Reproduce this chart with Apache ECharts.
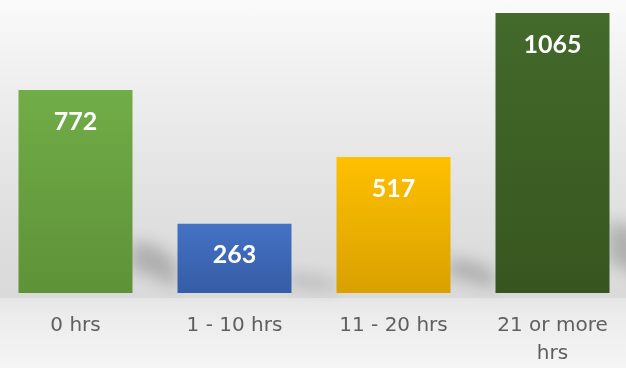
<!DOCTYPE html>
<html>
<head>
<meta charset="utf-8">
<script src="https://cdn.jsdelivr.net/npm/echarts@6/dist/echarts.min.js"></script>
<style>
  html, body { margin: 0; padding: 0; overflow: hidden; width: 626px; height: 368px; }
  body {
    background: linear-gradient(to bottom, #fafafa 0%, #efefef 22%, #e3e3e3 50%, #dbdbdb 72%, #dadada 80.9%, #e6e6e6 81.1%, #ececec 86%, #f5f5f5 100%);
    position: relative;
  }
  #chart { position: absolute; left: -4.5px; top: 0; width: 636px; height: 368px; }
</style>
</head>
<body>
<div id="chart"></div>
<script>
// Hours categories and counts
const categories = ['0 hrs', '1 - 10 hrs', '11 - 20 hrs', '21 or more\nhrs'];
const counts = [772, 263, 517, 1065];
// Top / bottom colours of each bar's vertical gradient
const topColors = ['#71ad47', '#4472c4', '#ffc000', '#43692b'];
const bottomColors = ['#5e9238', '#365ca6', '#d9a100', '#37561f'];

const chart = echarts.init(document.getElementById('chart'));

const barData = counts.map((v, i) => ({
  value: v,
  itemStyle: {
    color: new echarts.graphic.LinearGradient(0, 0, 0, 1, [
      { offset: 0, color: topColors[i] },
      { offset: 1, color: bottomColors[i] }
    ])
  }
}));

// Shadow shape is placed off to the left and its canvas shadow is shifted back,
// which gives a fully blurred silhouette without hard edges.
const SHIFT = 3000;

chart.setOption({
  animation: false,
  grid: { left: 0, right: 0, top: 13, height: 285, containLabel: false },
  xAxis: {
    type: 'category',
    data: categories,
    axisLine: { show: false },
    axisTick: { show: false },
    axisLabel: {
      color: '#5f5f5f',
      fontFamily: 'DejaVu Sans',
      fontSize: 20,
      lineHeight: 28,
      margin: 19,
      interval: 0
    }
  },
  yAxis: {
    type: 'value',
    min: 0,
    max: 1065,
    show: false,
    splitLine: { show: false }
  },
  series: [
    {
      // soft floor shadow cast behind and to the right of each bar
      type: 'custom',
      silent: true,
      z: 1,
      data: counts,
      clip: false,
      renderItem: function (params, api) {
        const base = api.coord([api.value(0), 0]);
        const top = api.coord([api.value(0), api.value(1)]);
        const xr = base[0] + 57;
        const hs = (base[1] - top[1]) * 0.25 + 2;
        const y0 = base[1];
        return {
          type: 'polygon',
          x: -SHIFT,
          shape: {
            points: [
              [xr - 2, y0 - hs],
              [xr + 24, y0 - hs + 5],
              [xr + 44, y0 - hs * 0.6],
              [xr + 44, y0 - 4],
              [xr + 22, y0 - hs * 0.3],
              [xr - 2, y0 - hs * 0.45]
            ]
          },
          style: {
            fill: '#000',
            shadowBlur: 16,
            shadowOffsetX: SHIFT,
            shadowColor: 'rgba(0,0,0,0.2)'
          }
        };
      }
    },
    {
      type: 'bar',
      z: 2,
      data: barData,
      barWidth: 114,
      label: {
        show: true,
        position: 'insideTop',
        distance: 19,
        color: '#ffffff',
        fontFamily: 'Lato',
        fontWeight: 'bold',
        fontSize: 25
      }
    }
  ]
});
</script>
</body>
</html>
